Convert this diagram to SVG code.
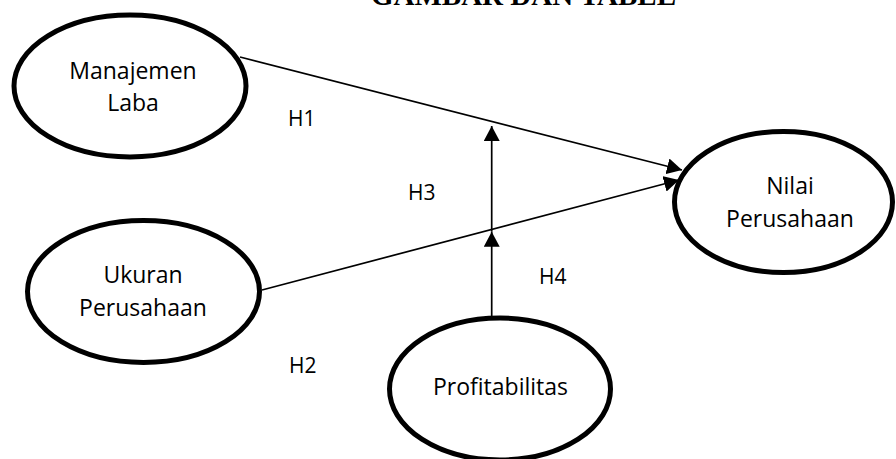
<svg xmlns="http://www.w3.org/2000/svg" width="896" height="459" viewBox="0 0 896 459">
<style>
.node{fill:#fff;stroke:#000;stroke-width:5}
.lbl{font-family:"Open Sans","Noto Sans",sans-serif;font-size:23px;fill:#000;text-anchor:middle}
.h{font-family:"Open Sans","Noto Sans",sans-serif;font-size:21px;fill:#000}
.conn{stroke:#000;stroke-width:1.7;fill:none;marker-end:url(#arr)}
.title{font-family:"Liberation Serif","Times New Roman",serif;font-weight:bold;font-size:29px;fill:#000;text-anchor:middle}
</style>
<defs>
<marker id="arr" markerUnits="userSpaceOnUse" markerWidth="16" markerHeight="16" refX="15" refY="8" orient="auto" viewBox="0 0 16 16">
<path d="M0,0 L15,8 L0,16 z" fill="#000"/>
</marker>
</defs>
<rect width="896" height="459" fill="#fff"/>
<text class="title" x="523.5" y="5">GAMBAR DAN TABEL</text>
<g id="connectors">
<line class="conn" x1="240" y1="57" x2="682" y2="170"/>
<line class="conn" x1="262" y1="290" x2="679" y2="180"/>
<line class="conn" x1="491.7" y1="317" x2="491.7" y2="231.7"/>
<line class="conn" x1="491.7" y1="231.7" x2="491.7" y2="126"/>
</g>
<g id="manajemen-laba">
<ellipse class="node" cx="130" cy="86" rx="116" ry="71"/>
<text class="lbl" x="133" y="79">Manajemen</text>
<text class="lbl" x="133" y="111">Laba</text>
</g>
<g id="ukuran-perusahaan">
<ellipse class="node" cx="143.5" cy="291.5" rx="116" ry="71"/>
<text class="lbl" x="143" y="283">Ukuran</text>
<text class="lbl" x="143" y="316">Perusahaan</text>
</g>
<g id="nilai-perusahaan">
<ellipse class="node" cx="783.5" cy="202" rx="109" ry="70.5"/>
<text class="lbl" x="790" y="194">Nilai</text>
<text class="lbl" x="790" y="227">Perusahaan</text>
</g>
<g id="profitabilitas">
<ellipse class="node" cx="500" cy="389" rx="110.5" ry="71"/>
<text class="lbl" x="500.5" y="395">Profitabilitas</text>
</g>
<g id="labels">
<text class="h" x="288" y="126">H1</text>
<text class="h" x="408" y="200">H3</text>
<text class="h" x="289" y="373">H2</text>
<text class="h" x="539" y="284">H4</text>
</g>
</svg>
